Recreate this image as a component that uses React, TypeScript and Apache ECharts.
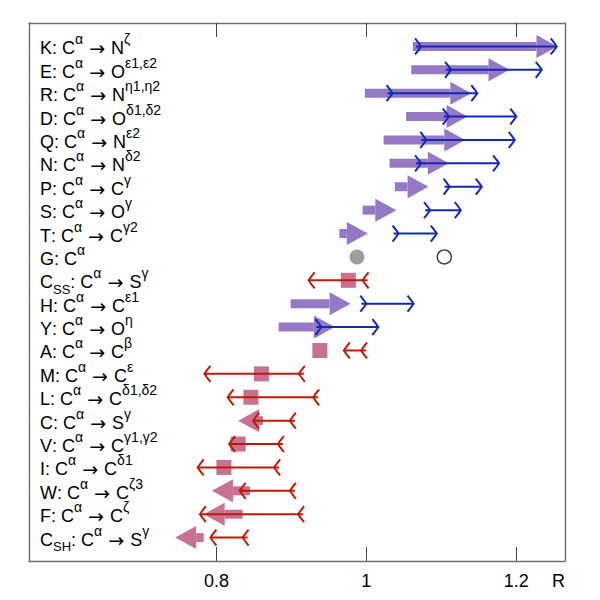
import React, { useEffect, useRef } from "react";
import * as echarts from "echarts";

// ---- data ----
const residues = ["K", "E", "R", "D", "Q", "N", "P", "S", "T", "G", "C", "H", "Y", "A", "M", "L", "C", "V", "I", "W", "F", "C"];
const residueSubs = ["", "", "", "", "", "", "", "", "", "", "SS", "", "", "", "", "", "", "", "", "", "", "SH"];
const atoms = ["N", "O", "N", "O", "N", "N", "C", "O", "C", "", "S", "C", "O", "C", "C", "C", "S", "C", "C", "C", "C", "S"];
const atomSups = ["ζ", "ε1,ε2", "η1,η2", "δ1,δ2", "ε2", "δ2", "γ", "γ", "γ2", "", "γ", "ε1", "η", "β", "ε", "δ1,δ2", "γ", "γ1,γ2", "δ1", "ζ3", "ζ", "γ"];

// thick arrows (from -> to); equal values drawn as a square
const thickFrom = [1.062, 1.06, 0.998, 1.053, 1.023, 1.031, 1.038, 0.995, 0.964, null, 0.976, 0.899, 0.883, 0.938, 0.86, 0.846, 0.862, 0.829, 0.81, 0.845, 0.835, 0.783];
const thickTo = [1.255, 1.191, 1.14, 1.135, 1.132, 1.11, 1.083, 1.04, 1.002, null, 0.976, 0.979, 0.958, 0.938, 0.86, 0.846, 0.829, 0.829, 0.81, 0.794, 0.783, 0.745];

// thin arrows (tail -> head)
const thinTail = [1.073, 1.113, 1.035, 1.11, 1.08, 1.073, 1.111, 1.085, 1.043, null, 0.995, 1.0, 0.94, 0.993, 0.91, 0.929, 0.898, 0.882, 0.877, 0.898, 0.909, 0.835];
const thinHead = [1.254, 1.234, 1.148, 1.2, 1.198, 1.177, 1.154, 1.126, 1.094, null, 0.923, 1.063, 1.016, 0.97, 0.784, 0.815, 0.849, 0.817, 0.775, 0.831, 0.778, 0.792];

// G row circles
const gFilled = [0.9875];
const gOpen = [1.104];

const xTicks = [0.8, 1, 1.2];

const PURPLE = "#9579c4";
const MAUVE = "#c77193";
const BLUE = "#1428b8";
const RED = "#bf1a08";
const FONT = "Liberation Sans";

const SHAFT = 9;
const HEAD_H = 23;
const HEAD_L = 21;
const SQUARE = 15;

function rowUp(i: number) {
  return (thinHead[i] as number) > (thinTail[i] as number);
}

function labelFor(i: number) {
  let s = `{b|${residues[i]}}`;
  if (residueSubs[i]) s += `{sub|${residueSubs[i]}}`;
  s += `{b|: C}{sup|α}`;
  if (atoms[i]) s += `{arr| → }{b|${atoms[i]}}{sup|${atomSups[i]}}`;
  return s;
}

export default function App() {
  const ref = useRef<HTMLDivElement>(null);
  useEffect(() => {
    if (!ref.current) return;
    const chart = echarts.init(ref.current, null, { renderer: "svg" });
    const n = residues.length;
    const gRow = residues.indexOf("G");

    const thickData: number[][] = [];
    const thinData: number[][] = [];
    for (let i = 0; i < n; i++) {
      if (thickFrom[i] != null) thickData.push([i, thickFrom[i] as number, thickTo[i] as number]);
      if (thinTail[i] != null) thinData.push([i, thinTail[i] as number, thinHead[i] as number]);
    }

    const axisLineStyle = { color: "#6e6e6e", width: 1.4 };

    chart.setOption({
      animation: false,
      backgroundColor: "#fff",
      grid: { left: 29, right: 35, top: 23, bottom: 39, outerBoundsMode: "none" },
      xAxis: [
        {
          type: "value",
          position: "bottom",
          min: 0.55,
          max: 1.265,
          axisLine: { show: true, onZero: false, lineStyle: axisLineStyle },
          axisTick: { show: true, inside: true, length: 14, customValues: xTicks, lineStyle: { color: "#444", width: 1 } },
          axisLabel: { show: true, customValues: xTicks, fontSize: 18, fontFamily: FONT, color: "#000", margin: 11 },
          splitLine: { show: false },
          name: "R",
          nameLocation: "end",
          nameGap: 0,
          nameTextStyle: { fontSize: 18, fontFamily: FONT, color: "#000", align: "right", verticalAlign: "top", padding: [11, 0, 0, 0] },
        },
        {
          type: "value",
          position: "top",
          min: 0.55,
          max: 1.265,
          axisLine: { show: true, onZero: false, lineStyle: axisLineStyle },
          axisTick: { show: true, inside: true, length: 14, customValues: xTicks, lineStyle: { color: "#444", width: 1 } },
          axisLabel: { show: false },
          splitLine: { show: false },
        },
      ],
      yAxis: [
        {
          type: "value",
          position: "left",
          min: -1,
          max: 22,
          interval: 1,
          inverse: true,
          axisLine: { show: true, onZero: false, lineStyle: axisLineStyle },
          axisTick: { show: false },
          splitLine: { show: false },
          axisLabel: {
            show: true,
            inside: true,
            margin: 11,
            padding: [4, 0, 0, 0],
            formatter: (v: number) => {
              const i = Math.round(v);
              if (Math.abs(v - i) > 1e-6 || i < 0 || i >= n) return "";
              return labelFor(i);
            },
            rich: {
              b: { fontSize: 18, fontFamily: FONT, color: "#000", lineHeight: 24 },
              arr: { fontSize: 19, fontFamily: "DejaVu Sans", color: "#000", lineHeight: 24 },
              sup: { fontSize: 14, fontFamily: FONT, color: "#000", height: 6, lineHeight: 6, verticalAlign: "top" },
              sub: { fontSize: 13, fontFamily: FONT, color: "#000", height: 10, lineHeight: 10, verticalAlign: "bottom" },
            },
          },
        },
        {
          type: "value",
          position: "right",
          min: -1,
          max: 22,
          inverse: true,
          axisLine: { show: true, onZero: false, lineStyle: axisLineStyle },
          axisTick: { show: false },
          axisLabel: { show: false },
          splitLine: { show: false },
        },
      ],
      series: [
        {
          type: "custom",
          name: "thick",
          xAxisIndex: 0,
          yAxisIndex: 0,
          encode: { x: [1, 2], y: 0 },
          data: thickData,
          renderItem: (params: any, api: any) => {
            const row = api.value(0);
            const from = api.value(1);
            const to = api.value(2);
            const p0 = api.coord([from, row]);
            const p1 = api.coord([to, row]);
            const color = rowUp(row) ? PURPLE : MAUVE;
            const y = p0[1];
            if (from === to) {
              return {
                type: "rect",
                shape: { x: p0[0] - SQUARE / 2, y: y - SQUARE / 2, width: SQUARE, height: SQUARE },
                style: { fill: color },
              };
            }
            const dir = p1[0] > p0[0] ? 1 : -1;
            const base = p1[0] - dir * HEAD_L;
            return {
              type: "group",
              children: [
                {
                  type: "rect",
                  shape: { x: Math.min(p0[0], base), y: y - SHAFT / 2, width: Math.abs(base - p0[0]), height: SHAFT },
                  style: { fill: color },
                },
                {
                  type: "polygon",
                  shape: { points: [[base, y - HEAD_H / 2], [p1[0], y], [base, y + HEAD_H / 2]] },
                  style: { fill: color },
                },
              ],
            };
          },
          z: 2,
        },
        {
          type: "custom",
          name: "thin",
          xAxisIndex: 0,
          yAxisIndex: 0,
          encode: { x: [1, 2], y: 0 },
          data: thinData,
          renderItem: (params: any, api: any) => {
            const row = api.value(0);
            const p0 = api.coord([api.value(1), row]);
            const p1 = api.coord([api.value(2), row]);
            const y = p0[1];
            const dir = p1[0] > p0[0] ? 1 : -1;
            const color = dir > 0 ? BLUE : RED;
            const chev = (x: number) => [
              [x - dir * 6, y - 8],
              [x - dir * 2.4, y - 3.4],
              [x, y],
              [x - dir * 2.4, y + 3.4],
              [x - dir * 6, y + 8],
            ];
            const st = { stroke: color, lineWidth: 2, fill: null };
            return {
              type: "group",
              children: [
                { type: "line", shape: { x1: p0[0] - dir * 5, y1: y, x2: p1[0], y2: y }, style: st },
                { type: "polyline", shape: { points: chev(p0[0]) }, style: st },
                { type: "polyline", shape: { points: chev(p1[0]) }, style: st },
              ],
            };
          },
          z: 3,
        },
        {
          type: "scatter",
          xAxisIndex: 0,
          yAxisIndex: 0,
          data: gFilled.map((v) => [v, gRow]),
          symbol: "circle",
          symbolSize: 15,
          itemStyle: { color: "#858585" },
          z: 3,
        },
        {
          type: "scatter",
          xAxisIndex: 0,
          yAxisIndex: 0,
          data: gOpen.map((v) => [v, gRow]),
          symbol: "circle",
          symbolSize: 14,
          itemStyle: { color: "#fff", borderColor: "#000", borderWidth: 1.4 },
          z: 3,
        },
      ],
    });
    return () => chart.dispose();
  }, []);
  return <div ref={ref} style={{ position: "fixed", left: 0, top: 0, width: 600, height: 600 }} />;
}
